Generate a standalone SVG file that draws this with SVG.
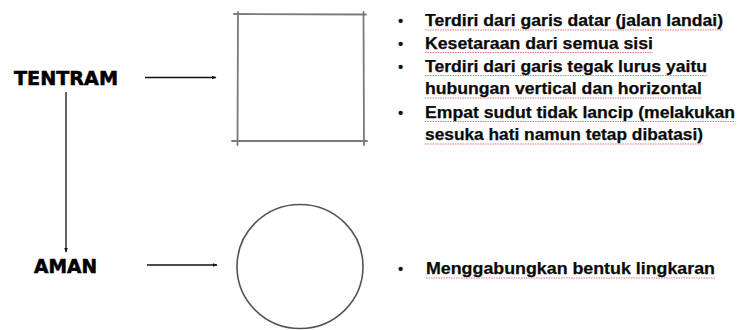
<svg xmlns="http://www.w3.org/2000/svg" width="737" height="330" viewBox="0 0 737 330">
<defs>
<style>
.lbl{font-family:"DejaVu Sans","Liberation Sans",Arial,sans-serif;font-weight:bold;font-size:20px;fill:#000;stroke:#000;stroke-width:0.6px}
.txt{font-family:"Liberation Sans",Arial,sans-serif;font-weight:bold;font-size:16.3px;fill:#0a0a0a;stroke:#0a0a0a;stroke-width:0.25px}
.bul{font-family:"Liberation Sans",Arial,sans-serif;font-weight:bold;font-size:15px;fill:#111}
.conn{stroke:#111;stroke-width:1.3;fill:none}
.sq{stroke:#7a7a7a;stroke-width:1.8;fill:none;stroke-linecap:round}
.sp{stroke:#e05555;stroke-width:1;stroke-dasharray:1.5 1;fill:none;opacity:0.8}
</style>
<marker id="ah" viewBox="0 0 10 10" refX="9" refY="5" markerWidth="5" markerHeight="5" orient="auto" markerUnits="userSpaceOnUse">
<path d="M0,1 L10,5 L0,9 Z" fill="#111"/>
</marker>
<filter id="soft" x="-10%" y="-10%" width="120%" height="120%">
<feGaussianBlur stdDeviation="0.5"/>
</filter>
</defs>
<rect width="737" height="330" fill="#fff"/>

<g id="connectors">
<line class="conn" x1="145" y1="77.5" x2="216" y2="77.5" marker-end="url(#ah)"/>
<line class="conn" x1="66" y1="92" x2="66" y2="252" marker-end="url(#ah)"/>
<line class="conn" x1="147" y1="265" x2="217" y2="265" marker-end="url(#ah)"/>
</g>

<g id="tentram">
<text class="lbl" x="14" y="85" textLength="104" lengthAdjust="spacingAndGlyphs">TENTRAM</text>
</g>

<g id="aman">
<text class="lbl" x="34" y="273" textLength="63" lengthAdjust="spacingAndGlyphs">AMAN</text>
</g>

<g id="square" filter="url(#soft)">
<line class="sq" x1="234" y1="14" x2="366" y2="14.5"/>
<line class="sq" x1="238" y1="12" x2="237.5" y2="145"/>
<line class="sq" x1="363.5" y1="12" x2="364" y2="145"/>
<line class="sq" x1="232" y1="141" x2="367" y2="141"/>
</g>

<g id="circle" filter="url(#soft)">
<ellipse cx="300" cy="266.5" rx="63" ry="62" stroke="#555" stroke-width="1.6" fill="none"/>
</g>

<g id="list-tentram">
<text class="bul" x="398" y="26">•</text>
<text class="txt" x="425" y="26" textLength="298" lengthAdjust="spacingAndGlyphs">Terdiri dari garis datar (jalan landai)</text>
<text class="bul" x="398" y="48.5">•</text>
<text class="txt" x="425" y="48.5" textLength="228" lengthAdjust="spacingAndGlyphs">Kesetaraan dari semua sisi</text>
<text class="bul" x="398" y="71.5">•</text>
<text class="txt" x="425" y="71.5" textLength="282" lengthAdjust="spacingAndGlyphs">Terdiri dari garis tegak lurus yaitu</text>
<text class="txt" x="425" y="94" textLength="277" lengthAdjust="spacingAndGlyphs">hubungan vertical dan horizontal</text>
<text class="bul" x="398" y="117.5">•</text>
<text class="txt" x="425" y="117.5" textLength="310" lengthAdjust="spacingAndGlyphs">Empat sudut tidak lancip (melakukan</text>
<text class="txt" x="425" y="140" textLength="278" lengthAdjust="spacingAndGlyphs">sesuka hati namun tetap dibatasi)</text>
</g>

<g id="list-aman">
<text class="bul" x="398" y="274">•</text>
<text class="txt" x="426" y="274" textLength="289" lengthAdjust="spacingAndGlyphs">Menggabungkan bentuk lingkaran</text>
</g>

<g id="spellcheck">
<line class="sp" x1="425" y1="30" x2="723" y2="30"/>
<line class="sp" x1="425" y1="52.5" x2="653" y2="52.5"/>
<line class="sp" x1="425" y1="75.5" x2="707" y2="75.5"/>
<line class="sp" x1="425" y1="98" x2="702" y2="98"/>
<line class="sp" x1="425" y1="121.5" x2="735" y2="121.5"/>
<line class="sp" x1="425" y1="144" x2="703" y2="144"/>
<line class="sp" x1="426" y1="278" x2="715" y2="278"/>
</g>
</svg>
